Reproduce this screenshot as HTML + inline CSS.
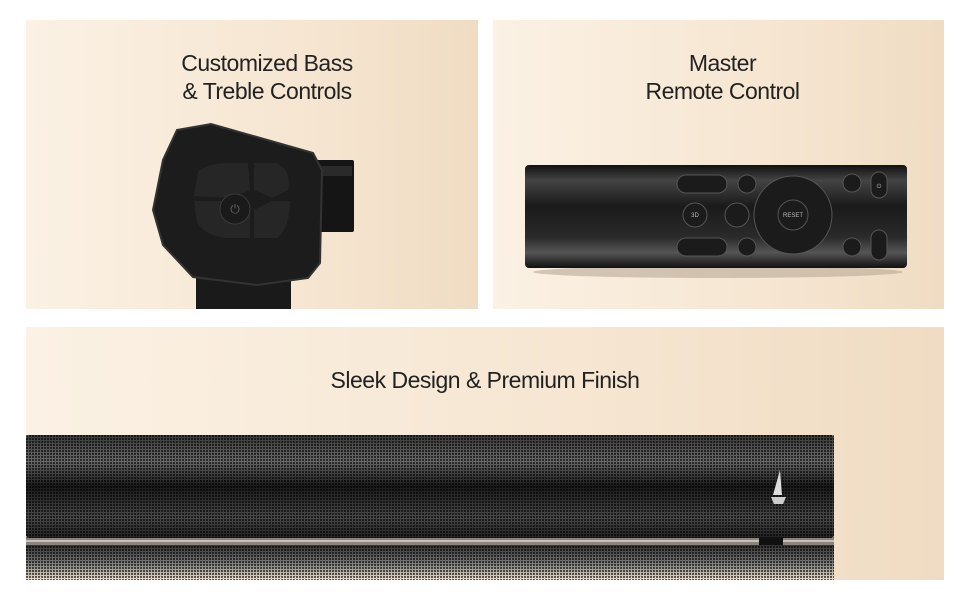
<!DOCTYPE html>
<html><head><meta charset="utf-8"><style>
body{margin:0;background:#fff;width:970px;height:600px;overflow:hidden;font-family:"Liberation Sans",sans-serif}
.p{position:absolute;background:linear-gradient(90deg,#fbf1e4 0%,#f6e6d2 60%,#f0dcc3 100%);overflow:hidden}
.t{position:absolute;width:100%;text-align:center;color:#222;font-size:23px;line-height:28px;letter-spacing:-0.5px}
</style></head><body>
<div class="p" style="left:26px;top:20px;width:452px;height:289px">
<div class="t" style="top:29px;left:15px">Customized Bass<br>&amp; Treble Controls</div>
<svg width="452" height="289" style="position:absolute;left:0;top:0">
<rect x="170" y="255" width="95" height="34" fill="#1a1a1a"/>
<rect x="290" y="140" width="38" height="72" rx="2" fill="#151515"/>
<rect x="294" y="146" width="32" height="10" fill="#2a2a2a"/>
<path d="M151 110 L185 104 L287 133 L296 150 L294 243 L282 258 L231 265 L167 257 L137 225 L127 190 L137 140 Z" fill="#1c1c1c" stroke="#333" stroke-width="2"/>
<path d="M172 152 Q180 144 200 143 L222 143 L224 170 L206 178 L168 176 Z" fill="#262626"/>
<path d="M228 143 L250 143 Q266 150 262 170 L246 178 L228 170 Z" fill="#262626"/>
<path d="M168 181 L206 181 L224 190 L224 218 L200 218 Q172 214 170 196 Z" fill="#262626"/>
<path d="M228 190 L246 181 L264 181 Q264 206 252 218 L228 218 Z" fill="#262626"/>
<circle cx="209" cy="189" r="15" fill="#1a1a1a" stroke="#3a3a3a"/>
<text x="209" y="193" font-size="12" fill="#666" text-anchor="middle">⏻</text>
</svg></div>
<div class="p" style="left:493px;top:20px;width:451px;height:289px">
<div class="t" style="top:29px;left:4px">Master<br>Remote Control</div>
<svg width="451" height="289" style="position:absolute;left:0;top:0">
<defs><linearGradient id="r" x1="0" y1="0" x2="0" y2="1"><stop offset="0" stop-color="#111"/><stop offset=".15" stop-color="#444"/><stop offset=".4" stop-color="#1a1a1a"/><stop offset=".7" stop-color="#2a2a2a"/><stop offset=".85" stop-color="#555"/><stop offset="1" stop-color="#111"/></linearGradient></defs>
<ellipse cx="225" cy="252" rx="185" ry="6" fill="#b8a896" opacity=".6"/>
<rect x="32" y="145" width="382" height="103" rx="4" fill="url(#r)"/>
<g fill="#1b1b1b" stroke="#555" stroke-width="1">
<rect x="184" y="155" width="50" height="18" rx="9"/><rect x="184" y="218" width="50" height="18" rx="9"/>
<circle cx="254" cy="164" r="9"/><circle cx="254" cy="227" r="9"/>
<circle cx="202" cy="195" r="12"/><circle cx="244" cy="195" r="12"/>
<circle cx="300" cy="195" r="39"/><circle cx="300" cy="195" r="15"/>
<circle cx="359" cy="163" r="9"/><circle cx="359" cy="227" r="9"/>
<rect x="378" y="152" width="16" height="26" rx="8"/><rect x="378" y="210" width="16" height="30" rx="8"/>
</g>
<g fill="#bbb" font-size="6" text-anchor="middle"><text x="202" y="197">3D</text><text x="300" y="197">RESET</text><text x="386" y="168">⏻</text></g>
</svg></div>
<div class="p" style="left:26px;top:327px;width:918px;height:253px">
<div class="t" style="top:39px;left:0">Sleek Design &amp; Premium Finish</div>
<svg width="918" height="253" style="position:absolute;left:0;top:0">
<defs><linearGradient id="s" x1="0" y1="0" x2="0" y2="1"><stop offset="0" stop-color="#3a3a3a"/><stop offset=".25" stop-color="#6a6a6a"/><stop offset=".5" stop-color="#1a1a1a"/><stop offset=".8" stop-color="#4a4a4a"/><stop offset="1" stop-color="#222"/></linearGradient>
<linearGradient id="f" x1="0" y1="0" x2="0" y2="1"><stop offset="0" stop-color="#333"/><stop offset=".5" stop-color="#777"/><stop offset="1" stop-color="#f0e0cc"/></linearGradient>
<pattern id="m" width="3" height="3" patternUnits="userSpaceOnUse"><rect width="2" height="2" fill="#000" opacity=".6"/></pattern></defs>
<rect x="0" y="108" width="808" height="103" rx="3" fill="url(#s)"/>
<rect x="0" y="108" width="808" height="103" fill="url(#m)"/>
<rect x="0" y="211" width="808" height="7" fill="#8a847c"/><rect x="0" y="213" width="808" height="2" fill="#c8c0b4"/>
<rect x="733" y="210" width="24" height="8" fill="#111"/>
<rect x="0" y="218" width="808" height="35" fill="url(#f)"/>
<rect x="0" y="218" width="808" height="35" fill="url(#m)"/>
<path d="M754 143 L756 168 L747 168 Z" fill="#ddd"/><path d="M745 170 L760 170 L757 177 L748 177 Z" fill="#ccc"/>
</svg></div>
</body></html>
